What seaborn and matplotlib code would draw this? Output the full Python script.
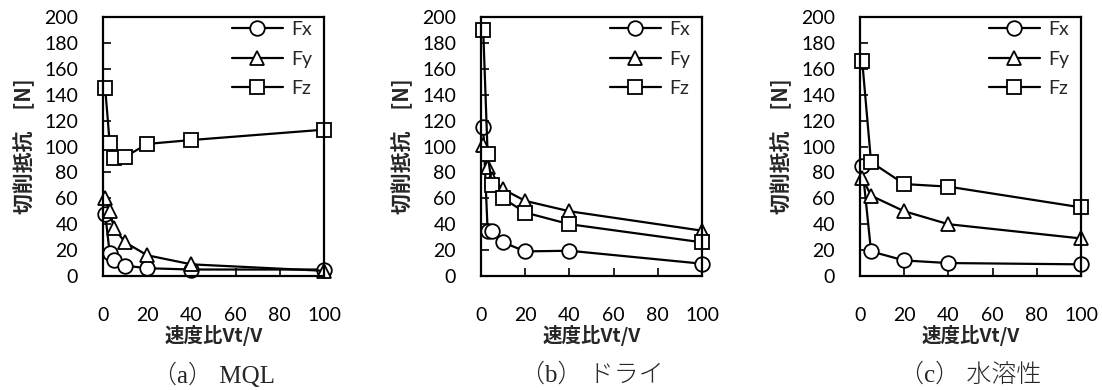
import numpy as np
import pandas as pd
import matplotlib
matplotlib.use("Agg")
import matplotlib.pyplot as plt
import seaborn as sns

# ---- data ----
x_a = [1, 3, 5, 10, 20, 40, 100]
fx_a = [48, 18, 12, 8, 6, 5, 5]
fy_a = [60, 50, 37, 26, 16, 9, 4]
fz_a = [145, 103, 91, 92, 102, 105, 113]

x_b = [1, 3, 5, 10, 20, 40, 100]
fx_b = [115, 35, 35, 26, 19, 19.5, 9.5]
fy_b = [101, 84, 75, 67, 58, 50, 35]
fz_b = [190, 94, 70, 60, 49, 40, 26]

x_c = [1, 5, 20, 40, 100]
fx_c = [85, 19, 12, 10, 9]
fy_c = [76, 62, 50, 40, 29]
fz_c = [166, 88, 71, 69, 53]

series = ["Fx", "Fy", "Fz"]
captions = ["（a） MQL", "（b） ドライ", "（c） 水溶性"]
xlabel = "速度比Vt/V"
ylabel = "切削抵抗　[N]"
xticks = [0, 20, 40, 60, 80, 100]
yticks = [0, 20, 40, 60, 80, 100, 120, 140, 160, 180, 200]

panels = [(x_a, fx_a, fy_a, fz_a), (x_b, fx_b, fy_b, fz_b), (x_c, fx_c, fy_c, fz_c)]

sns.set_style("white")
plt.rcParams["font.family"] = ["Lato", "Noto Sans CJK JP", "DejaVu Sans"]

fig = plt.figure(figsize=(11.02, 3.90), dpi=100)
W, H = 1102, 390
lefts = [103, 481, 860]
aw = 221
top, bottom = 17, 276
ah = bottom - top

markers = {"Fx": "o", "Fy": "^", "Fz": "s"}
palette = {"Fx": "black", "Fy": "black", "Fz": "black"}
fs = 14

for i, (xs, fx, fy, fz) in enumerate(panels):
    ax = fig.add_axes([lefts[i] / W, 1 - bottom / H, aw / W, ah / H])
    df = pd.concat([
        pd.DataFrame({"x": xs, "y": vals, "s": name})
        for name, vals in zip(series, [fx, fy, fz])
    ])
    sns.lineplot(data=df, x="x", y="y", hue="s", style="s", markers=markers,
                 palette=palette, dashes=False, ax=ax, legend=False,
                 linewidth=1.6, markersize=10.5, markerfacecolor="white",
                 markeredgecolor="black", markeredgewidth=1.3, sort=False)
    ax.set_xlim(0, 100)
    ax.set_ylim(0, 200)
    ax.set_xticks(xticks)
    ax.set_yticks(yticks)
    ax.tick_params(axis="both", which="major", direction="in", length=6, width=1.2,
                   labelsize=fs, colors="black", bottom=True, left=True)
    ax.tick_params(axis="x", which="major", pad=22)
    ax.tick_params(axis="y", which="major", pad=18)
    for sp in ax.spines.values():
        sp.set_color("black")
        sp.set_linewidth(1.6)
        sp.set_visible(True)
    for line in ax.lines:
        line.set_clip_on(False)
    ax.set_xlabel(xlabel, fontsize=fs, fontweight="bold",
                  family=["Noto Sans CJK JP"])
    ax.set_ylabel(ylabel, fontsize=15, fontweight="bold",
                  family=["Noto Sans CJK JP"])
    ax.xaxis.label.set_va("center")
    ax.yaxis.label.set_va("center")
    ax.xaxis.set_label_coords(0.5, -59 / ah)
    ax.yaxis.set_label_coords(-79 / aw, 0.5)
    ax.legend(ax.lines, series, loc="upper left",
              bbox_to_anchor=(129 / aw, 1 - 4 / ah), frameon=False,
              fontsize=fs, handlelength=2.62, handletextpad=0.45,
              labelspacing=0.65, borderaxespad=0, borderpad=0)
    cx = (lefts[i] + aw / 2) / W
    fig.text(cx, 1 - 375 / H, captions[i], ha="center", va="center",
             fontsize=18, fontweight="light",
             family=["Liberation Serif", "Noto Sans CJK JP"])

fig.savefig("out.png", dpi=100)
